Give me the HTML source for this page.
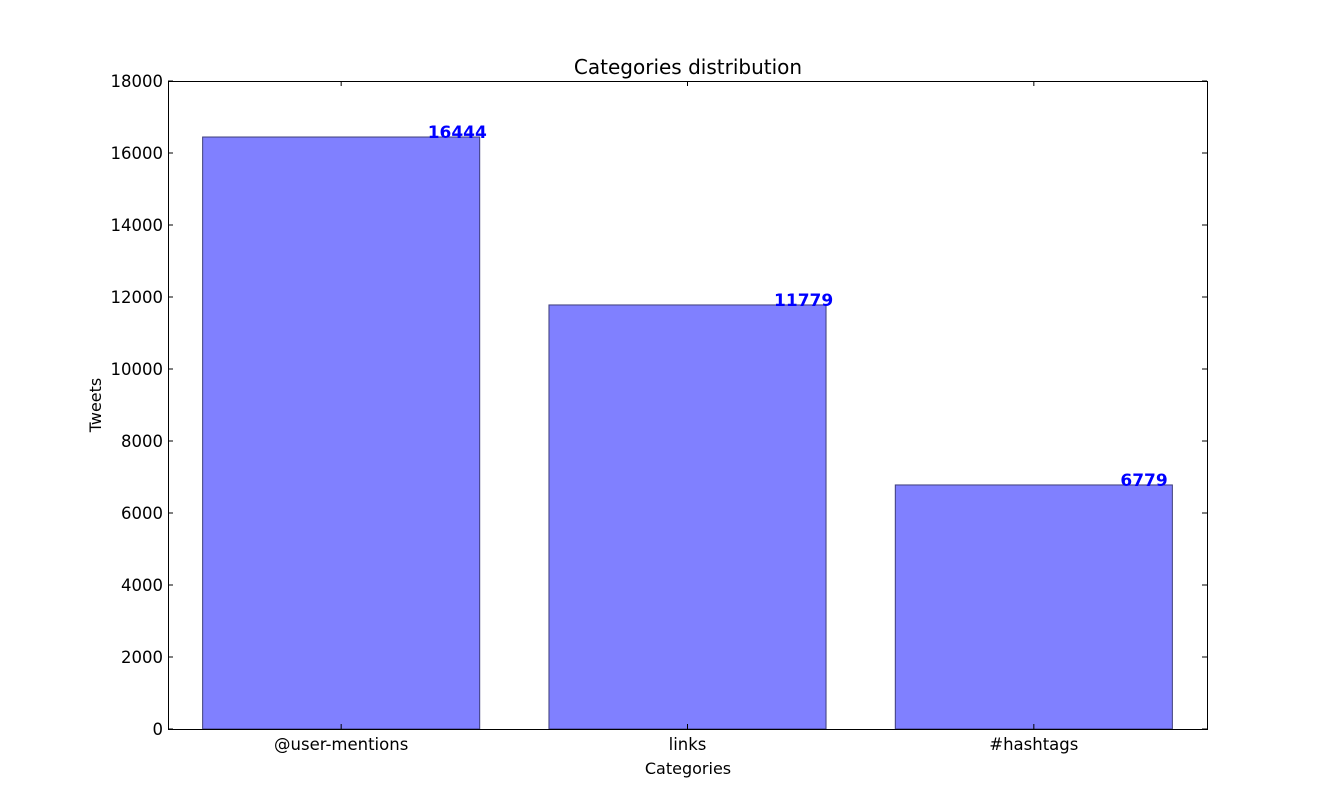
<!DOCTYPE html>
<html><head><meta charset="utf-8"><style>
body{margin:0;background:#fff;}
svg{display:block;font-family:"DejaVu Sans","Liberation Sans",sans-serif;}
</style></head><body>
<svg id="chart" width="1341" height="810">
<rect x="0" y="0" width="1341" height="810" fill="#fff"/>
<text x="688" y="74" font-size="20" text-anchor="middle">Categories distribution</text>
<text x="688" y="774" font-size="16" text-anchor="middle">Categories</text>
<text transform="translate(101,405) rotate(-90)" font-size="16" text-anchor="middle">Tweets</text>
<g id="bars"></g>
<g id="axes"></g>
</svg>
<script>
const categories = ["@user-mentions", "links", "#hashtags"];
const values = [16444, 11779, 6779];
const yTicks = [0, 2000, 4000, 6000, 8000, 10000, 12000, 14000, 16000, 18000];

const L = 168, R = 1207, T = 81, B = 729, yMax = 18000;
const slot = (R - L) / categories.length;
const xPos = i => L + slot * i;
const yPos = v => B - (v / yMax) * (B - T);
const NS = "http://www.w3.org/2000/svg";
function mk(tag, attrs, parent, text) {
  const e = document.createElementNS(NS, tag);
  for (const k in attrs) e.setAttribute(k, attrs[k]);
  if (text !== undefined) e.textContent = text;
  parent.appendChild(e);
  return e;
}
const bars = document.getElementById("bars");
const axes = document.getElementById("axes");
values.forEach((v, i) => {
  const x0 = xPos(i) + slot * 0.1, w = slot * 0.8;
  const r = mk("rect", {x: x0, y: yPos(v), width: w, height: B - yPos(v), fill: "#8080ff", stroke: "#3d3d7a", "stroke-width": 1}, bars);
  
  
  const t = mk("text", {x: x0 + w - 52, y: yPos(v) + 1, "font-size": 17, "font-weight": "bold", fill: "#0000ff", "text-anchor": "start"}, bars, String(v));
  
  
  const cx = xPos(i) + slot / 2;
  const tk = mk("path", {d: `M${cx},${B}v-5M${cx},${T}v5`, stroke: "#000", "stroke-width": 1}, axes);
  
  
  const lb = mk("text", {x: cx, y: B + 21, "font-size": 16.5, "text-anchor": "middle"}, axes, categories[i]);
  
  
});
yTicks.forEach(v => {
  const y = yPos(v);
  const tk = mk("path", {d: `M${L},${y}h5M${R},${y}h-5`, stroke: "#000", "stroke-width": 1}, axes);
  
  
  const lb = mk("text", {x: L - 5, y: y + 6, "font-size": 16.5, "text-anchor": "end"}, axes, String(v));
  
  
});
const frame = mk("rect", {x: L + 0.5, y: T + 0.5, width: R - L, height: B - T, fill: "none", stroke: "#000", "stroke-width": 1}, axes);


</script>
</body></html>
